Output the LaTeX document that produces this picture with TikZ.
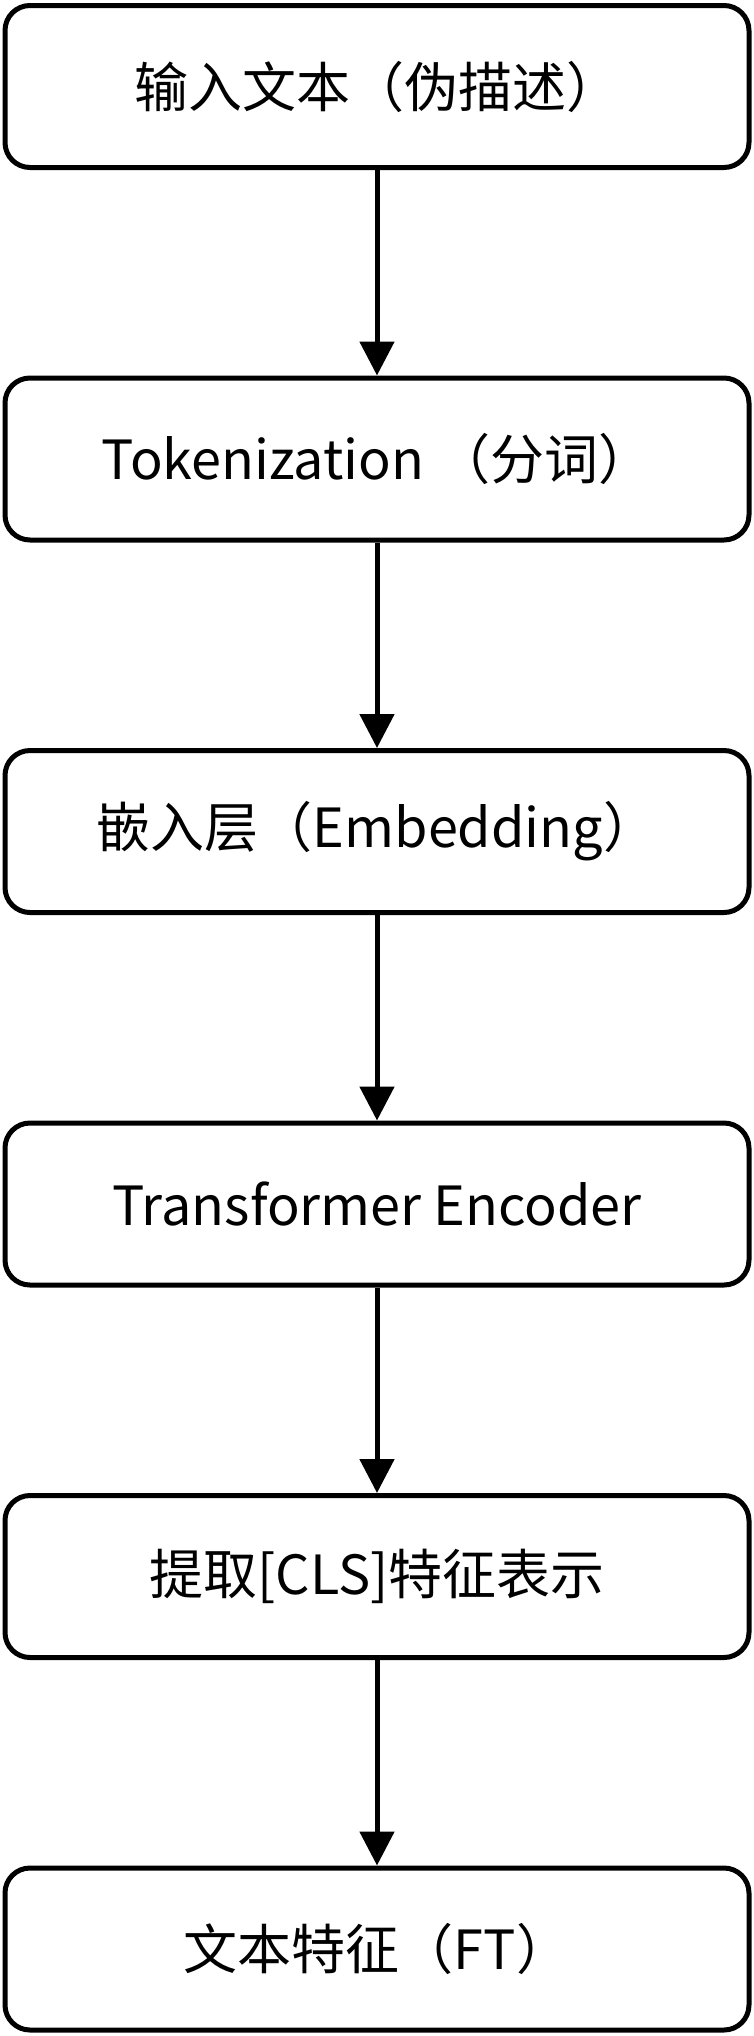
\documentclass[tikz,border=0pt]{standalone}
\usepackage{fontspec}
\newfontfamily\cjkfont{Noto Sans CJK SC}
\usetikzlibrary{arrows.meta,positioning}

\begin{document}
\begin{tikzpicture}[x=0.5pt,y=0.5pt,node distance=186.25pt,
	Edge/.style={-{Triangle[width=17pt,length=17pt]},black,line width=2.5pt},
	StepBox/.style={rectangle,rounded corners=12.5pt,fill=white,draw=black,line width=2.5pt,
		minimum width=372pt,minimum height=81pt,font=\cjkfont\fontsize{27pt}{32pt}\selectfont},
]
	\useasboundingbox (0,0) rectangle (754,-2036);
	
	\node[StepBox] (Input) at (377,-86.5){输入文本（伪描述）};
	\node[StepBox] (Token)[below of= Input]{Tokenization （分词）};
	\node[StepBox] (Embed)[below of= Token]{嵌入层（Embedding）};
	\node[StepBox] (Encoder)[below of= Embed]{Transformer Encoder};
	\node[StepBox] (CLS)[below of= Encoder]{提取[CLS]特征表示};
	\node[StepBox] (Feature)[below of= CLS]{文本特征（FT）};
	
	\path[Edge]
	(Input) edge (Token)
	(Token) edge (Embed)
	(Embed) edge (Encoder)
	(Encoder) edge (CLS)
	(CLS) edge (Feature)
	;
\end{tikzpicture}
\end{document}
